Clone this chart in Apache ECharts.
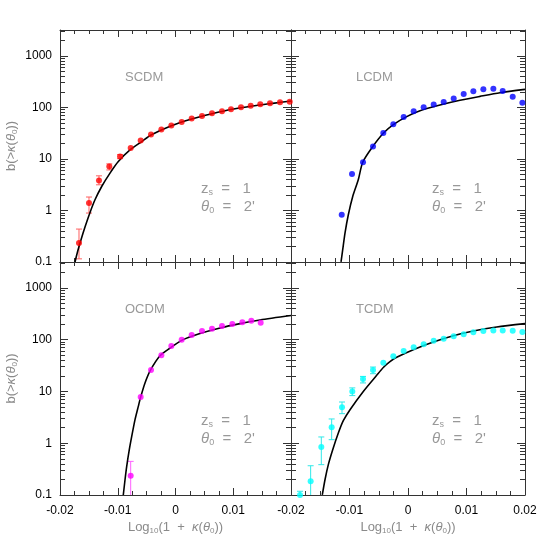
<!DOCTYPE html>
<html>
<head>
<meta charset="utf-8">
<script src="https://cdn.jsdelivr.net/npm/echarts@6/dist/echarts.min.js"></script>
<style>
html, body { margin: 0; padding: 0; background: #fff; }
#chart { width: 554px; height: 554px; }
</style>
</head>
<body>
<div id="chart"></div>
<script>
// panel names and colours
var modelNames = ['SCDM', 'LCDM', 'OCDM', 'TCDM'];
var dotColors = ['#ff0000', '#0000ff', '#ff00ff', '#00ffff'];
var errColors = ['#ff6060', '#6060ff', '#ff60ff', '#30e8e8'];

// SCDM simulation points
var scdmX = [-0.01671, -0.01498, -0.01325, -0.01146, -0.0096, -0.00776, -0.00603, -0.00424, -0.00245, -0.00072,
    0.00107, 0.0028, 0.00459, 0.00632, 0.00805, 0.00961, 0.01134, 0.01302, 0.01468, 0.01636, 0.0181, 0.01978];
var scdmY = [0.233, 1.39, 3.81, 7.1, 11.1, 16.3, 22.6, 29.6, 37.0, 44.2,
    52.0, 60.4, 68.0, 76.6, 83.7, 91.6, 100, 107.6, 114.5, 119.7, 125, 128.5];
var scdmErrX = [-0.01671, -0.01498, -0.01325, -0.01146, -0.0096];
var scdmErrLo = [0.115, 0.89, 3.14, 6.1, 10.1];
var scdmErrHi = [0.435, 1.82, 4.69, 8.0, 12.1];
var scdmCurveX = [-0.0174, -0.01694, -0.01636, -0.01567, -0.0148, -0.01394, -0.01278, -0.01134, -0.0099,
    -0.00788, -0.00585, -0.00424, -0.00072, 0.0028, 0.00632, 0.00984, 0.0133, 0.01683, 0.02];
var scdmCurveY = [0.1, 0.161, 0.27, 0.476, 0.914, 1.61, 2.91, 5.29, 8.87,
    14.9, 21.6, 29, 44, 59.5, 75, 91.5, 106, 119.5, 133];

// LCDM simulation points
var lcdmX = [-0.01133, -0.00957, -0.00769, -0.00598, -0.00422, -0.00251, -0.00074, 0.00097, 0.00268, 0.00439,
    0.0061, 0.00781, 0.00952, 0.01117, 0.01288, 0.01459, 0.01619, 0.0179, 0.01955];
var lcdmY = [0.82, 5.1, 8.6, 17.3, 31.8, 46.9, 65, 83.7, 100, 114, 127, 149, 181, 204, 223, 230, 207, 161, 123];
var lcdmErrX = [];
var lcdmErrLo = [];
var lcdmErrHi = [];
var lcdmCurveX = [-0.01145, -0.01116, -0.01077, -0.0102, -0.00945, -0.0085, -0.00774, -0.00603, -0.00422,
    -0.00251, -0.00022, 0.00205, 0.00547, 0.00889, 0.01231, 0.01573, 0.02];
var lcdmCurveY = [0.1, 0.173, 0.364, 0.824, 1.86, 3.93, 8.6, 17.3, 31.4,
    46.2, 66, 86, 111, 137, 163, 192, 223];

// OCDM simulation points
var ocdmX = [-0.00776, -0.00603, -0.00424, -0.00245, -0.00072, 0.00107, 0.0028, 0.00459, 0.00632, 0.00805,
    0.00984, 0.01157, 0.01313, 0.01475];
var ocdmY = [0.236, 7.8, 25.9, 49.8, 75.5, 100, 123, 147, 163, 184, 201, 216, 233, 213];
var ocdmErrX = [-0.00776];
var ocdmErrLo = [0.05];
var ocdmErrHi = [0.446];
var ocdmCurveX = [-0.00904, -0.00874, -0.00845, -0.008, -0.00758, -0.00701, -0.00644, -0.00603, -0.00528,
    -0.00429, -0.00268, -0.00095, 0.00107, 0.00424, 0.00771, 0.01117, 0.01463, 0.02];
var ocdmCurveY = [0.1, 0.197, 0.356, 0.748, 1.35, 2.85, 5.14, 7.8, 14.6,
    26.3, 49, 69, 97, 131, 168, 204, 240, 292];

// TCDM simulation points
var tcdmX = [-0.01846, -0.01664, -0.01482, -0.01305, -0.01128, -0.00952, -0.00769, -0.00598, -0.00422, -0.00251,
    -0.00074, 0.00097, 0.00268, 0.00439, 0.0061, 0.00781, 0.00952, 0.01117, 0.01288, 0.01459,
    0.01619, 0.0179, 0.01955];
var tcdmY = [0.1, 0.185, 0.845, 2.03, 4.93, 10.0, 17.4, 25.9, 36.0, 47.6,
    60.4, 71.1, 81.3, 95.6, 104, 116, 127, 139, 147, 151, 151, 149, 141];
var tcdmErrX = [-0.01846, -0.01664, -0.01482, -0.01305, -0.01128, -0.00952, -0.00769, -0.00598];
var tcdmErrLo = [0.05, 0.05, 0.385, 1.17, 3.72, 8.3, 14.6, 22.0];
var tcdmErrHi = [0.118, 0.367, 1.32, 2.94, 6.25, 11.7, 19.5, 29.6];
var tcdmCurveX = [-0.01465, -0.01419, -0.01362, -0.01287, -0.01191, -0.01106, -0.00991, -0.00764, -0.00535,
    -0.00422, -0.00308, -0.00194, 0.0009, 0.00433, 0.00775, 0.01117, 0.01516, 0.02];
var tcdmCurveY = [0.1, 0.197, 0.385, 0.748, 1.57, 2.72, 4.44, 10.0, 20.5,
    29.0, 37.5, 45.6, 64, 90, 119, 147, 176, 204];

// axis ticks
var yMajorTicks = [0.1, 1, 10, 100, 1000];
var yMinorTicks = [0.2, 0.3, 0.4, 0.5, 0.6, 0.7, 0.8, 0.9, 2, 3, 4, 5, 6, 7, 8, 9,
    20, 30, 40, 50, 60, 70, 80, 90, 200, 300, 400, 500, 600, 700, 800, 900, 2000, 3000];

var panels = [
    { px: scdmX, py: scdmY, ex: scdmErrX, elo: scdmErrLo, ehi: scdmErrHi, cx: scdmCurveX, cy: scdmCurveY },
    { px: lcdmX, py: lcdmY, ex: lcdmErrX, elo: lcdmErrLo, ehi: lcdmErrHi, cx: lcdmCurveX, cy: lcdmCurveY },
    { px: ocdmX, py: ocdmY, ex: ocdmErrX, elo: ocdmErrLo, ehi: ocdmErrHi, cx: ocdmCurveX, cy: ocdmCurveY },
    { px: tcdmX, py: tcdmY, ex: tcdmErrX, elo: tcdmErrLo, ehi: tcdmErrHi, cx: tcdmCurveX, cy: tcdmCurveY }
];

var grids = [
    { left: 60, top: 30, width: 231, height: 232 },
    { left: 291, top: 30, width: 234, height: 232 },
    { left: 60, top: 262, width: 231, height: 233 },
    { left: 291, top: 262, width: 234, height: 233 }
];

var Y_MIN = 0.0999, Y_MAX = 3163;
var lineCol = '#333';
var font = 'Liberation Sans';
var grayText = '#999';

var subRich = {
    m: { fontSize: 13, fontFamily: font, color: '#8a8a8a', lineHeight: 16 },
    i: { fontSize: 13, fontFamily: font, color: '#8a8a8a', fontStyle: 'italic', lineHeight: 16 },
    s: { fontSize: 8, fontFamily: font, color: '#8a8a8a', lineHeight: 8, verticalAlign: 'bottom' }
};

function numFmt(v) {
    return String(Number(Number(v).toPrecision(4)));
}

var xAxes = [], yAxes = [], series = [], graphics = [];

grids.forEach(function(g, k) {
    var isBottom = k >= 2, isLeft = k % 2 === 0;
    ['bottom', 'top'].forEach(function(pos) {
        var showLab = isBottom && pos === 'bottom';
        xAxes.push({
            type: 'value', gridIndex: k, position: pos,
            min: -0.02, max: 0.02, interval: 0.01,
            axisLine: { show: true, onZero: false, lineStyle: { color: lineCol, width: 1 } },
            axisTick: { show: true, inside: true, length: 7, lineStyle: { color: lineCol } },
            minorTick: { show: true, splitNumber: 4, length: 4, lineStyle: { color: lineCol } },
            splitLine: { show: false },
            axisLabel: {
                show: showLab, margin: 10, fontSize: 12, fontFamily: font, color: '#000',
                showMaxLabel: !isLeft, formatter: numFmt
            },
            name: showLab ? '{m|Log}{s|10}{m|(1  +  }{i|κ}{m|(}{i|θ}{s|0}{m|))}' : '',
            nameLocation: 'middle', nameGap: 24,
            nameTextStyle: { rich: subRich }
        });
    });
    ['left', 'right'].forEach(function(pos) {
        var showLab = isLeft && pos === 'left';
        yAxes.push({
            type: 'log', logBase: 10, gridIndex: k, position: pos,
            min: Y_MIN, max: Y_MAX,
            axisLine: { show: true, onZero: false, lineStyle: { color: lineCol, width: 1 } },
            axisTick: { show: true, inside: true, length: 8, customValues: yMajorTicks, lineStyle: { color: lineCol } },
            splitLine: { show: false },
            axisLabel: {
                show: showLab, margin: 8, fontSize: 12, fontFamily: font, color: '#000',
                customValues: yMajorTicks, formatter: numFmt
            },
            name: showLab ? '{m|b(>}{i|κ}{m|(}{i|θ}{s|0}{m|))}' : '',
            nameLocation: 'middle', nameGap: 41, nameRotate: 90,
            nameTextStyle: { rich: subRich }
        });
        yAxes.push({
            type: 'log', logBase: 10, gridIndex: k, position: pos,
            min: Y_MIN, max: Y_MAX,
            axisLine: { show: false, onZero: false },
            axisTick: { show: true, inside: true, length: 5, customValues: yMinorTicks, lineStyle: { color: lineCol } },
            splitLine: { show: false },
            axisLabel: { show: false }
        });
    });

    var p = panels[k];
    var xi = 2 * k, yi = 4 * k;
    var errData = p.ex.map(function(x, j) { return [x, p.elo[j], p.ehi[j]]; });
    var errCol = errColors[k];
    series.push({
        type: 'custom', xAxisIndex: xi, yAxisIndex: yi, data: errData, z: 2,
        encode: { x: 0, y: [1, 2] },
        renderItem: function(params, api) {
            var x = api.value(0), lo = api.value(1), hi = api.value(2);
            var clipped = lo < 0.1;
            var top = api.coord([x, hi]);
            var bot = api.coord([x, clipped ? 0.1 : lo]);
            var st = { stroke: errCol, lineWidth: 1 };
            var ch = [
                { type: 'line', shape: { x1: top[0], y1: top[1], x2: bot[0], y2: bot[1] }, style: st },
                { type: 'line', shape: { x1: top[0] - 3, y1: top[1], x2: top[0] + 3, y2: top[1] }, style: st }
            ];
            if (!clipped) {
                ch.push({ type: 'line', shape: { x1: bot[0] - 3, y1: bot[1], x2: bot[0] + 3, y2: bot[1] }, style: st });
            }
            return { type: 'group', children: ch };
        }
    });
    series.push({
        type: 'line', xAxisIndex: xi, yAxisIndex: yi, z: 3,
        data: p.cx.map(function(x, j) { return [x, p.cy[j]]; }),
        showSymbol: false, smooth: 0.25, clip: true,
        lineStyle: { color: '#000', width: 1.6 }
    });
    series.push({
        type: 'scatter', xAxisIndex: xi, yAxisIndex: yi, z: 4,
        data: p.px.map(function(x, j) { return [x, p.py[j]]; }),
        symbolSize: 6, clip: true,
        itemStyle: { color: dotColors[k] }
    });

    graphics.push({
        type: 'text', left: g.left + 65, top: g.top + 41,
        style: { text: modelNames[k], fill: grayText, font: '13px "Liberation Sans"' }
    });
    graphics.push({
        type: 'text', left: g.left + 141, top: g.top + 151,
        style: {
            text: '{m|z}{s|s}{m|  =   1}\n{i|θ}{s|0}{m|  =   2\'}',
            rich: {
                m: { fontSize: 15, fontFamily: font, fill: grayText, lineHeight: 18 },
                i: { fontSize: 15, fontFamily: font, fill: grayText, fontStyle: 'italic', lineHeight: 18 },
                s: { fontSize: 9, fontFamily: font, fill: grayText, lineHeight: 9, verticalAlign: 'bottom' }
            }
        }
    });
});

var chart = echarts.init(document.getElementById('chart'));
chart.setOption({
    animation: false,
    backgroundColor: '#fff',
    grid: grids,
    xAxis: xAxes,
    yAxis: yAxes,
    series: series,
    graphic: graphics
});
</script>
</body>
</html>
